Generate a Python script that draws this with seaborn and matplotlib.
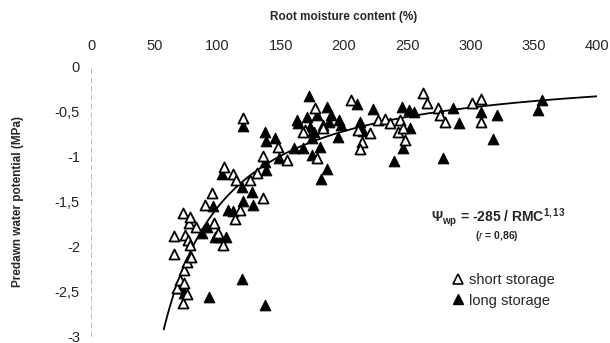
import numpy as np
import pandas as pd
import matplotlib
matplotlib.use("Agg")
import matplotlib.pyplot as plt
import seaborn as sns
from matplotlib.lines import Line2D

sns.set_theme(style="white")
plt.rcParams['font.family'] = ['Liberation Sans', 'DejaVu Sans']
plt.rcParams['mathtext.fontset'] = 'custom'
plt.rcParams['mathtext.rm'] = 'Liberation Sans'
plt.rcParams['mathtext.it'] = 'Liberation Sans:italic'
plt.rcParams['mathtext.bf'] = 'Liberation Sans:bold'

# ---- data ----
short_rmc = [65.6, 65.6, 68.0, 70.4, 72.8, 72.8, 73.5, 73.5, 74.3, 75.9, 75.9, 76.7, 77.5, 78.3,
             78.3, 79.1, 83.0, 90.2, 95.7, 97.3, 100.4, 104.4, 105.2, 112.3, 113.9, 114.7, 117.8,
             125.7, 131.3, 136.0,
             120.2, 136.0, 147.9, 155.0, 169.2, 177.1, 178.7, 167.7, 183.5, 205.6, 211.1, 214.3, 212.7,
             220.6, 227.0, 232.5, 236.5, 244.4, 242.8, 246.7, 248.3, 262.6, 265.7, 274.4, 276.0, 280.0,
             301.3, 308.4, 308.4]
short_wp = [-1.89, -2.08, -2.47, -2.37, -1.63, -2.63, -2.26, -2.41, -1.87, -2.18, -2.53, -1.93, -1.74, -1.67,
            -1.98, -2.12, -1.78, -1.54, -1.40, -1.74, -1.85, -1.98, -1.11, -1.19, -1.70, -1.26, -1.60,
            -1.26, -1.18, -1.46,
            -0.57, -0.99, -0.89, -1.04, -0.70, -0.46, -1.01, -0.72, -0.68, -0.37, -0.70, -0.84, -0.92,
            -0.74, -0.59, -0.58, -0.62, -0.59, -0.73, -0.68, -0.81, -0.29, -0.40, -0.46, -0.53, -0.61,
            -0.40, -0.36, -0.61]

long_rmc = [70.4, 73.5, 87.8, 91.7, 93.3, 96.5, 98.1, 102.0, 103.6, 106.8, 108.3, 112.3, 119.4, 119.4,
            120.2, 127.3, 128.1, 137.6,
            120.2, 137.6, 138.4, 137.6, 138.4, 145.5, 148.7, 160.5, 162.9, 167.7, 170.8, 172.4, 174.8,
            181.1, 181.9, 186.6, 186.6, 179.0, 190.0, 196.0, 198.0, 188.5, 183.0, 173.0, 176.5, 175.0,
            195.3, 210.4, 212.7, 213.5, 215.0, 164.0,
            223.0, 239.6, 246.0, 251.0, 255.5, 252.3, 246.7, 278.4, 286.3, 291.0, 308.4, 321.1, 318.0,
            356.7, 353.5]
long_wp = [-2.46, -2.52, -1.85, -1.78, -2.56, -1.55, -1.90, -1.90, -1.19, -1.90, -1.59, -1.61, -1.34, -2.36,
           -1.49, -1.39, -1.54, -2.65,
           -0.66, -0.73, -0.82, -1.06, -1.15, -0.79, -1.01, -0.90, -0.59, -0.90, -0.56, -0.32, -0.98,
           -0.89, -1.25, -1.14, -0.45, -0.53, -0.53, -0.59, -0.65, -0.61, -0.65, -0.67, -0.72, -0.79,
           -0.78, -0.41, -0.61, -0.69, -0.71, -0.62,
           -0.47, -1.05, -0.45, -0.48, -0.50, -0.68, -0.90, -1.02, -0.46, -0.62, -0.50, -0.53, -0.80,
           -0.37, -0.48]

# fitted relation shown on the chart: Psi = -285 / RMC^1.13
fit_a = 285.0
fit_b = 1.13

x_ticks = [0, 50, 100, 150, 200, 250, 300, 350, 400]
y_ticks = [0, -0.5, -1, -1.5, -2, -2.5, -3]
y_tick_labels = ["0", "-0,5", "-1", "-1,5", "-2", "-2,5", "-3"]

df_s = pd.DataFrame({"rmc": short_rmc, "wp": short_wp})
df_l = pd.DataFrame({"rmc": long_rmc, "wp": long_wp})
fit_x = np.linspace(57.5, 400, 300)
df_fit = pd.DataFrame({"rmc": fit_x, "wp": -fit_a / fit_x ** fit_b})

fig = plt.figure(figsize=(6.1, 3.43), dpi=100)
ax = fig.add_axes([0.1492, 0.0204, 0.8295, 0.7843])

sns.lineplot(data=df_fit, x="rmc", y="wp", ax=ax, color="black", lw=1.3, zorder=2)
sns.scatterplot(data=df_l, x="rmc", y="wp", ax=ax, marker="^", s=58, color="black",
                edgecolor="black", linewidth=0.8, zorder=3)
sns.scatterplot(data=df_s, x="rmc", y="wp", ax=ax, marker="^", s=52, facecolor="white",
                edgecolor="black", linewidth=1.3, zorder=4)

ax.set_xlim(0, 400)
ax.set_ylim(-3, 0)
ax.xaxis.tick_top()
ax.xaxis.set_label_position("top")
ax.set_xticks(x_ticks)
ax.set_xticklabels([str(v) for v in x_ticks], fontsize=10.5)
ax.set_yticks(y_ticks)
ax.set_yticklabels(y_tick_labels, fontsize=10.5)
ax.tick_params(axis="x", length=0, pad=10)
ax.tick_params(axis="y", length=0, pad=8)
ax.set_xlabel("Root moisture content (%)", fontsize=8.5, fontweight="bold", labelpad=14)
ax.set_ylabel("Predawn water potential (MPa)", fontsize=8.5, fontweight="bold", labelpad=22)

for side in ["top", "right", "bottom"]:
    ax.spines[side].set_visible(False)
ax.spines["left"].set_color("#bbbbbb")
ax.spines["left"].set_linewidth(0.7)
ax.spines["left"].set_linestyle((0, (5, 4)))

ax.text(0.805, 0.44, r"Ψ$_\mathbf{wp}$ = -285 / RMC$^\mathbf{1,13}$",
        transform=ax.transAxes, ha="center", va="center", fontsize=10, fontweight="bold")
ax.text(0.803, 0.37, r"($\mathit{r}$ = 0,86)", transform=ax.transAxes, ha="center", va="center",
        fontsize=7.5, fontweight="bold")

handles = [
    Line2D([], [], marker="^", ls="", markerfacecolor="white", markeredgecolor="black",
           markersize=7, markeredgewidth=1.2, label="short storage"),
    Line2D([], [], marker="^", ls="", markerfacecolor="black", markeredgecolor="black",
           markersize=7, label="long storage"),
]
ax.legend(handles=handles, loc="center left", bbox_to_anchor=(0.70, 0.17), frameon=False,
          fontsize=10.5, handlelength=0.8, handletextpad=0.3, labelspacing=0.45, borderpad=0)

fig.savefig("out.png", dpi=100)
